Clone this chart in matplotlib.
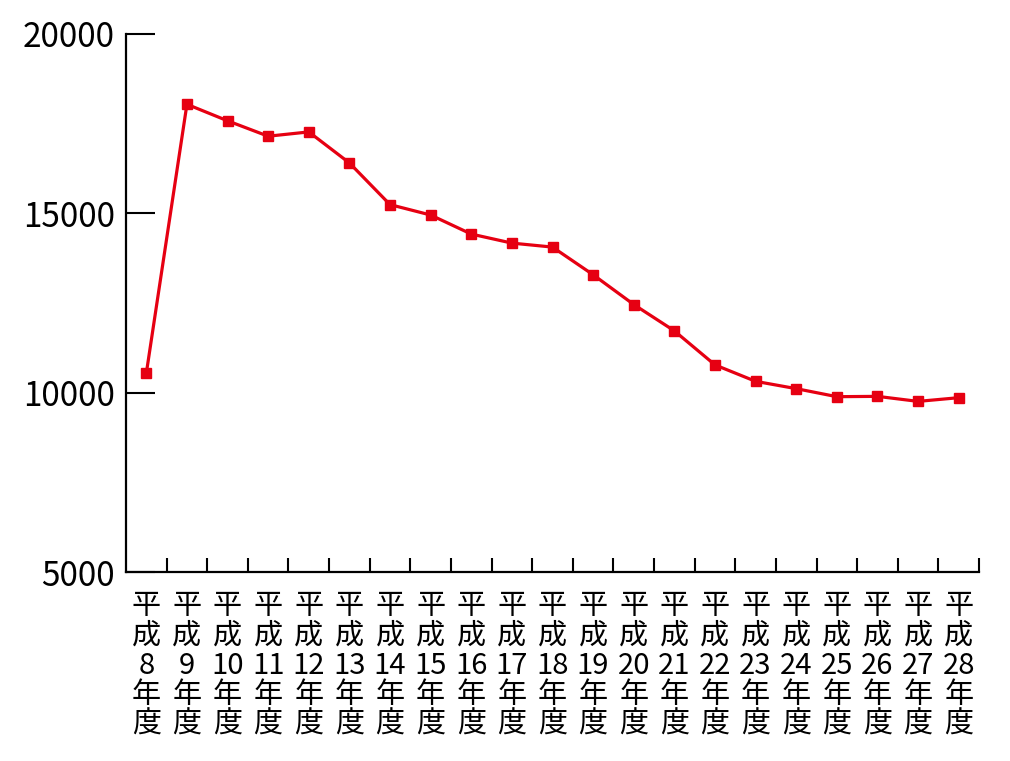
import matplotlib
matplotlib.use("Agg")
import matplotlib.pyplot as plt
import numpy as np

plt.rcParams['font.family'] = ['Noto Sans CJK JP', 'DejaVu Sans']

years = list(range(8, 29))
labels = [f"平\n成\n{y}\n年\n度" for y in years]
values = [10540, 18040, 17580, 17150, 17270, 16405, 15243, 14953, 14422, 14170,
          14059, 13288, 12458, 11723, 10774, 10316, 10112, 9888, 9897, 9757, 9860]
yticks = [5000, 10000, 15000, 20000]

fig = plt.figure(figsize=(10.10, 7.61), dpi=100)
ax = fig.add_axes([126/1010, 1 - 572/761, (979-126)/1010, (572-34)/761])

x = np.arange(len(values))
ax.plot(x, values, color='#e60012', lw=2.3, marker='s', markersize=6.5, zorder=3,
        clip_on=False)

ax.set_xlim(-0.5, len(values) - 0.5)
ax.set_ylim(5000, 20000)
ax.set_yticks(yticks)
ax.set_yticklabels([str(v) for v in yticks], fontsize=24)
ax.set_xticks(x)
ax.set_xticklabels(labels, fontsize=21, linespacing=0.98)
ax.set_xticks(np.arange(0.5, len(values), 1.0), minor=True)

ax.tick_params(axis='y', direction='in', length=21, width=1.5, pad=8, colors='black')
ax.tick_params(axis='x', which='major', length=0, pad=14)
ax.tick_params(axis='x', which='minor', direction='in', length=10, width=1.5)

for s in ['top', 'right']:
    ax.spines[s].set_visible(False)
for s in ['left', 'bottom']:
    ax.spines[s].set_linewidth(1.6)

fig.savefig('out.png', dpi=100)
